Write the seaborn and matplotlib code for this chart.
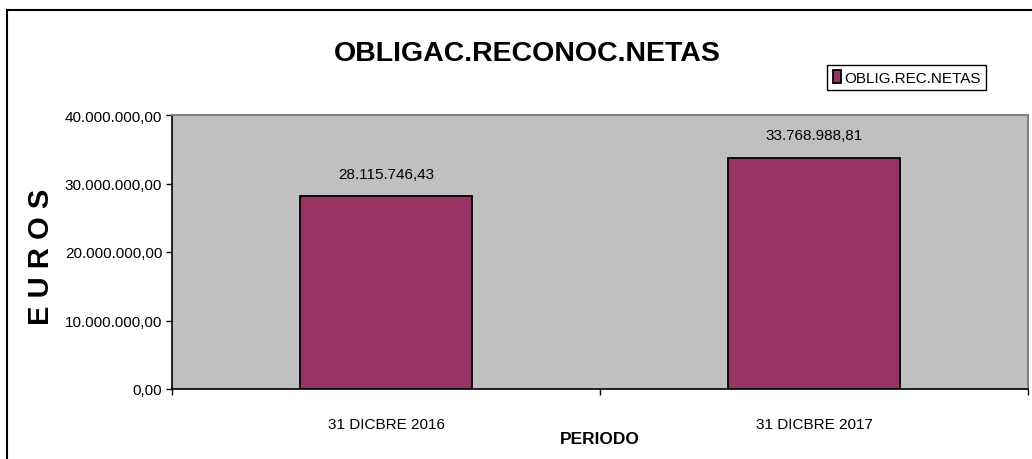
import matplotlib
matplotlib.use("Agg")
import matplotlib.pyplot as plt
import matplotlib.patches as mpatches
import seaborn as sns
import pandas as pd

# Data
periodos = ["31 DICBRE 2016", "31 DICBRE 2017"]
valores = [28115746.43, 33768988.81]
serie = "OBLIG.REC.NETAS"
y_ticks = [0, 10000000, 20000000, 30000000, 40000000]


def fmt_es(v):
    s = f"{v:,.2f}"
    return s.replace(",", "X").replace(".", ",").replace("X", ".")


df = pd.DataFrame({"Periodo": periodos, "Valor": valores})

sns.set_style("white")
plt.rcParams["font.family"] = ["Liberation Sans", "DejaVu Sans"]
for k in ["text.color", "axes.labelcolor", "xtick.color", "ytick.color"]:
    plt.rcParams[k] = "black"

fig = plt.figure(figsize=(10.32, 4.6), dpi=100)
ax = fig.add_axes([172 / 1032, 1 - 390 / 460, 856 / 1032, 274 / 460])
ax.set_facecolor("#C0C0C0")

sns.barplot(data=df, x="Periodo", y="Valor", color="#993366", saturation=1,
            width=0.404, edgecolor="black", linewidth=1.3, ax=ax)

ax.set_xlim(-0.5, 1.5)
ax.set_ylim(0, 40000000)
ax.set_yticks(y_ticks)
ax.set_yticklabels([fmt_es(v) for v in y_ticks], fontsize=11)
ax.set_xticks(range(len(periodos)))
ax.set_xticklabels(periodos, fontsize=11)
ax.set_xticks([-0.5, 0.5, 1.5], minor=True)
ax.tick_params(axis="x", which="major", length=0, pad=20)
ax.tick_params(axis="x", which="minor", direction="out", length=4, width=1, color="black", bottom=True)
ax.tick_params(axis="y", direction="out", length=4, width=1, color="black", left=True, pad=3)

for s in ["top", "right"]:
    ax.spines[s].set_color("#808080")
    ax.spines[s].set_linewidth(1.5)
for s in ["left", "bottom"]:
    ax.spines[s].set_color("black")
    ax.spines[s].set_linewidth(1.2)

# data labels
for i, v in enumerate(valores):
    ax.annotate(fmt_es(v), xy=(i, v), xytext=(0, 11), textcoords="offset points",
                ha="center", va="bottom", fontsize=11)

ax.set_xlabel("PERIODO", fontsize=12.5, fontweight="bold", labelpad=0)
ax.set_ylabel("")
fig.text(41 / 1032, 1 - 257 / 460, "E U R O S", rotation=90, fontsize=21,
         fontweight="bold", ha="center", va="center")

fig.text(527 / 1032, 1 - 54 / 460, "OBLIGAC.RECONOC.NETAS", fontsize=20.5,
         fontweight="bold", ha="center", va="center")

handle = mpatches.Patch(facecolor="#993366", edgecolor="black", linewidth=1.3)
fig.legend([handle], [serie], loc="upper right",
           bbox_to_anchor=(986 / 1032, 1 - 66 / 460), fontsize=11,
           frameon=True, fancybox=False, edgecolor="black", framealpha=1,
           borderaxespad=0, handlelength=0.55, handleheight=0.9,
           handletextpad=0.2, borderpad=0.35)

# outer frame of the chart
frame = mpatches.Rectangle((7 / 1032, -0.1), 1.1, 1 - 11 / 460 + 0.1,
                           transform=fig.transFigure, fill=False,
                           edgecolor="black", linewidth=1.5, clip_on=False)
fig.patches.append(frame)

fig.savefig("out.png", dpi=100)
